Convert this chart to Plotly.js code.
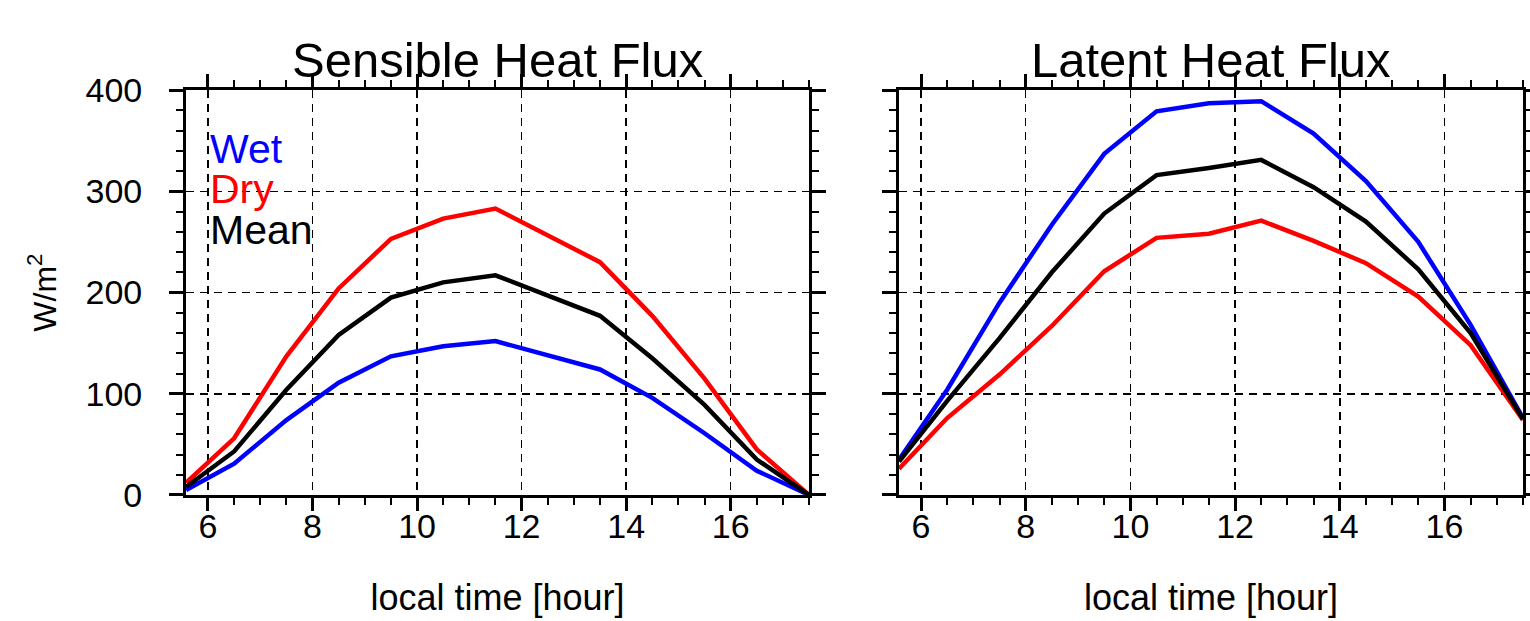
<!DOCTYPE html>
<html>
<head>
<meta charset="utf-8">
<script src="https://cdn.plot.ly/plotly-3.0.1.min.js"></script>
<style>html,body{margin:0;padding:0;background:#fff;}#chart{width:1530px;height:621px;}</style>
</head>
<body>
<div id="chart"></div>
<script>
// ---- data ----
const hours = [5.58, 6.5, 7.5, 8.5, 9.5, 10.5, 11.5, 12.5, 13.5, 14.5, 15.5, 16.5, 17.5];

const sensibleWet  = [5, 31, 74, 111, 137, 147, 152, 138, 124, 96, 61, 24, 0];
const sensibleDry  = [12, 56, 137, 204, 253, 273, 283, 256, 230, 177, 115, 45, 0];
const sensibleMean = [8, 43, 104, 158, 195, 210, 217, 197, 177, 135, 89, 35, 0];

const latentWet  = [35, 104, 190, 267, 337, 379, 387, 389, 357, 310, 250, 168, 76];
const latentDry  = [26, 76, 119, 167, 221, 254, 258, 271, 251, 229, 196, 148, 74];
const latentMean = [33, 93, 155, 220, 278, 316, 323, 331, 304, 270, 223, 160, 75];

const panelTitles = ["Sensible Heat Flux", "Latent Heat Flux"];
const seriesNames = ["Wet", "Dry", "Mean"];
const seriesColors = ["#0000ff", "#ff0000", "#000000"];
const xTitle = "local time [hour]";
const yTitle = "W/m<sup>2</sup>";

const FONT = "Liberation Sans, Arial, Helvetica, sans-serif";

function line(x, y, color, xa, ya, name) {
  return {x: x, y: y, type: "scatter", mode: "lines", name: name,
          line: {color: color, width: 4.5}, xaxis: xa, yaxis: ya,
          showlegend: false, hoverinfo: "skip"};
}

const traces = [
  line(hours, sensibleWet,  seriesColors[0], "x",  "y",  seriesNames[0]),
  line(hours, sensibleDry,  seriesColors[1], "x",  "y",  seriesNames[1]),
  line(hours, sensibleMean, seriesColors[2], "x",  "y",  seriesNames[2]),
  line(hours, latentWet,  seriesColors[0], "x2", "y2", seriesNames[0]),
  line(hours, latentDry,  seriesColors[1], "x2", "y2", seriesNames[1]),
  line(hours, latentMean, seriesColors[2], "x2", "y2", seriesNames[2])
];

function xAxis(domain, anchor) {
  return {
    domain: domain, anchor: anchor, range: [5.58, 17.5],
    tick0: 0, dtick: 2, ticks: "outside", ticklen: 13, tickwidth: 3, tickcolor: "#000",
    minor: {dtick: 0.5, ticks: "outside", ticklen: 7, tickwidth: 2, tickcolor: "#000", showgrid: false},
    showgrid: true, gridcolor: "#000", gridwidth: 1.5, griddash: "8px,6px",
    showline: true, linecolor: "#000", linewidth: 3, mirror: "ticks",
    zeroline: false, automargin: false,
    tickfont: {family: FONT, size: 34, color: "#000"},
    ticklabelstandoff: -14,
    title: {text: xTitle, font: {family: FONT, size: 36, color: "#000"}, standoff: 42}
  };
}
function yAxis(domain, anchor, labels) {
  const ax = {
    domain: domain, anchor: anchor, range: [0, 400],
    tick0: 0, dtick: 100, ticks: "outside", ticklen: 14, tickwidth: 3, tickcolor: "#000",
    minor: {dtick: 20, ticks: "outside", ticklen: 7, tickwidth: 2, tickcolor: "#000", showgrid: false},
    showgrid: true, gridcolor: "#000", gridwidth: 1.5, griddash: "8px,6px",
    showline: true, linecolor: "#000", linewidth: 3, mirror: "ticks",
    zeroline: false, automargin: false, showticklabels: labels,
    tickfont: {family: FONT, size: 34, color: "#000"},
    ticklabelstandoff: 20
  };
  if (labels) ax.title = {text: yTitle, font: {family: FONT, size: 32, color: "#000"}, standoff: 20};
  return ax;
}

const yDom = [0.2029, 0.855];
const layout = {
  width: 1530, height: 621,
  margin: {l: 0, r: 0, t: 0, b: 0},
  paper_bgcolor: "#fff", plot_bgcolor: "#fff",
  font: {family: FONT, color: "#000"},
  xaxis: xAxis([0.1216, 0.5288], "y"),
  yaxis: yAxis(yDom, "x", true),
  xaxis2: xAxis([0.5876, 0.9954], "y2"),
  yaxis2: yAxis(yDom, "x2", false),
  annotations: [
    {text: panelTitles[0], xref: "paper", yref: "paper", x: 0.3252, y: 0.903, xanchor: "center", yanchor: "middle",
     showarrow: false, font: {family: FONT, size: 49, color: "#000"}},
    {text: panelTitles[1], xref: "paper", yref: "paper", x: 0.7915, y: 0.903, xanchor: "center", yanchor: "middle",
     showarrow: false, font: {family: FONT, size: 49, color: "#000"}},
    {text: seriesNames[0], xref: "x", yref: "y", x: 6.0, y: 342, xanchor: "left", yanchor: "middle",
     showarrow: false, font: {family: FONT, size: 41, color: seriesColors[0]}},
    {text: seriesNames[1], xref: "x", yref: "y", x: 6.0, y: 302, xanchor: "left", yanchor: "middle",
     showarrow: false, font: {family: FONT, size: 41, color: seriesColors[1]}},
    {text: seriesNames[2], xref: "x", yref: "y", x: 6.0, y: 262, xanchor: "left", yanchor: "middle",
     showarrow: false, font: {family: FONT, size: 41, color: seriesColors[2]}}
  ]
};

Plotly.newPlot("chart", traces, layout, {displayModeBar: false, staticPlot: true});
</script>
</body>
</html>
